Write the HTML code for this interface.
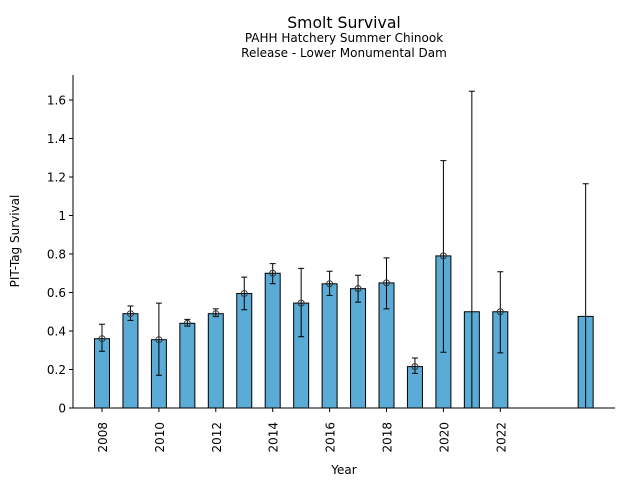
<!DOCTYPE html>
<html><head><meta charset="utf-8"><style>body{margin:0;background:#fff}svg{display:block}text{font-family:"DejaVu Sans","Liberation Sans",sans-serif;fill:#000}</style></head><body>
<svg width="640" height="480" xmlns="http://www.w3.org/2000/svg">
<text x="344" y="28" font-size="15.7" text-anchor="middle">Smolt Survival</text>
<text x="344" y="42" font-size="12" text-anchor="middle">PAHH Hatchery Summer Chinook</text>
<text x="344" y="57" font-size="12" text-anchor="middle">Release - Lower Monumental Dam</text>
<g stroke="#000" stroke-width="1" fill="#5aabd6">
<rect x="94.5" y="338.7" width="15" height="69.3"/>
<rect x="122.95" y="313.7" width="15" height="94.3"/>
<rect x="151.4" y="339.7" width="15" height="68.3"/>
<rect x="179.85" y="323.3" width="15" height="84.7"/>
<rect x="208.3" y="313.7" width="15" height="94.3"/>
<rect x="236.75" y="293.5" width="15" height="114.5"/>
<rect x="265.2" y="273.25" width="15" height="134.75"/>
<rect x="293.65" y="303.1" width="15" height="104.9"/>
<rect x="322.1" y="283.8" width="15" height="124.2"/>
<rect x="350.55" y="288.65" width="15" height="119.35"/>
<rect x="379" y="282.9" width="15" height="125.1"/>
<rect x="407.45" y="366.6" width="15" height="41.4"/>
<rect x="435.9" y="255.9" width="15" height="152.1"/>
<rect x="464.35" y="311.75" width="15" height="96.25"/>
<rect x="492.8" y="311.75" width="15" height="96.25"/>
<rect x="578.15" y="316.4" width="15" height="91.6"/>
</g>
<path fill="none" stroke="#000" stroke-width="1" d="
M102 351.2V324.3M99 351.2h6M99 324.3h6
M130.45 320.4V306M127.45 320.4h6M127.45 306h6
M158.9 375.3V303.1M155.9 375.3h6M155.9 303.1h6
M187.35 326.2V319.4M184.35 326.2h6M184.35 319.4h6
M215.8 316.6V308.9M212.8 316.6h6M212.8 308.9h6
M244.25 309.8V277.1M241.25 309.8h6M241.25 277.1h6
M272.7 283.8V263.6M269.7 283.8h6M269.7 263.6h6
M301.15 336.8V268.4M298.15 336.8h6M298.15 268.4h6
M329.6 295.4V271.3M326.6 295.4h6M326.6 271.3h6
M358.05 302.1V275.2M355.05 302.1h6M355.05 275.2h6
M386.5 308.9V257.85M383.5 308.9h6M383.5 257.85h6
M414.95 373.35V357.95M411.95 373.35h6M411.95 357.95h6
M443.4 352.2V160.6M440.4 352.2h6M440.4 160.6h6
M471.85 408V91.3M468.85 91.3h6
M500.3 352.9V271.7M497.3 352.9h6M497.3 271.7h6
M585.65 408V183.7M582.65 183.7h6"/>
<g fill="none" stroke="#333" stroke-width="1">
<circle cx="102" cy="338.7" r="3"/><circle cx="130.45" cy="313.7" r="3"/><circle cx="158.9" cy="339.7" r="3"/><circle cx="187.35" cy="323.3" r="3"/><circle cx="215.8" cy="313.7" r="3"/><circle cx="244.25" cy="293.5" r="3"/><circle cx="272.7" cy="273.25" r="3"/><circle cx="301.15" cy="303.1" r="3"/><circle cx="329.6" cy="283.8" r="3"/><circle cx="358.05" cy="288.65" r="3"/><circle cx="386.5" cy="282.9" r="3"/><circle cx="414.95" cy="366.6" r="3"/><circle cx="443.4" cy="255.9" r="3"/><circle cx="500.3" cy="311.75" r="3"/>
</g>
<path fill="none" stroke="#000" stroke-width="1" d="M73 75V408.5M72.5 408H615
M69 408h4M69 369.5h4M69 331h4M69 292.5h4M69 254h4M69 215.5h4M69 177h4M69 138.5h4M69 100h4
M102 408v4M158.9 408v4M215.8 408v4M272.7 408v4M329.6 408v4M386.5 408v4M443.4 408v4M500.3 408v4"/>
<g font-size="12" text-anchor="end">
<text x="66" y="412.5">0</text><text x="66" y="374">0.2</text><text x="66" y="335.5">0.4</text><text x="66" y="297">0.6</text><text x="66" y="258.5">0.8</text><text x="66" y="220">1</text><text x="66" y="181.5">1.2</text><text x="66" y="143">1.4</text><text x="66" y="104.5">1.6</text>
<text transform="translate(107,422) rotate(-90)">2008</text>
<text transform="translate(163.9,422) rotate(-90)">2010</text>
<text transform="translate(220.8,422) rotate(-90)">2012</text>
<text transform="translate(277.7,422) rotate(-90)">2014</text>
<text transform="translate(334.6,422) rotate(-90)">2016</text>
<text transform="translate(391.5,422) rotate(-90)">2018</text>
<text transform="translate(448.4,422) rotate(-90)">2020</text>
<text transform="translate(505.3,422) rotate(-90)">2022</text>
</g>
<text transform="translate(19,241) rotate(-90)" font-size="12" text-anchor="middle">PIT-Tag Survival</text>
<text x="344" y="474" font-size="12" text-anchor="middle">Year</text>
</svg>
</body></html>
